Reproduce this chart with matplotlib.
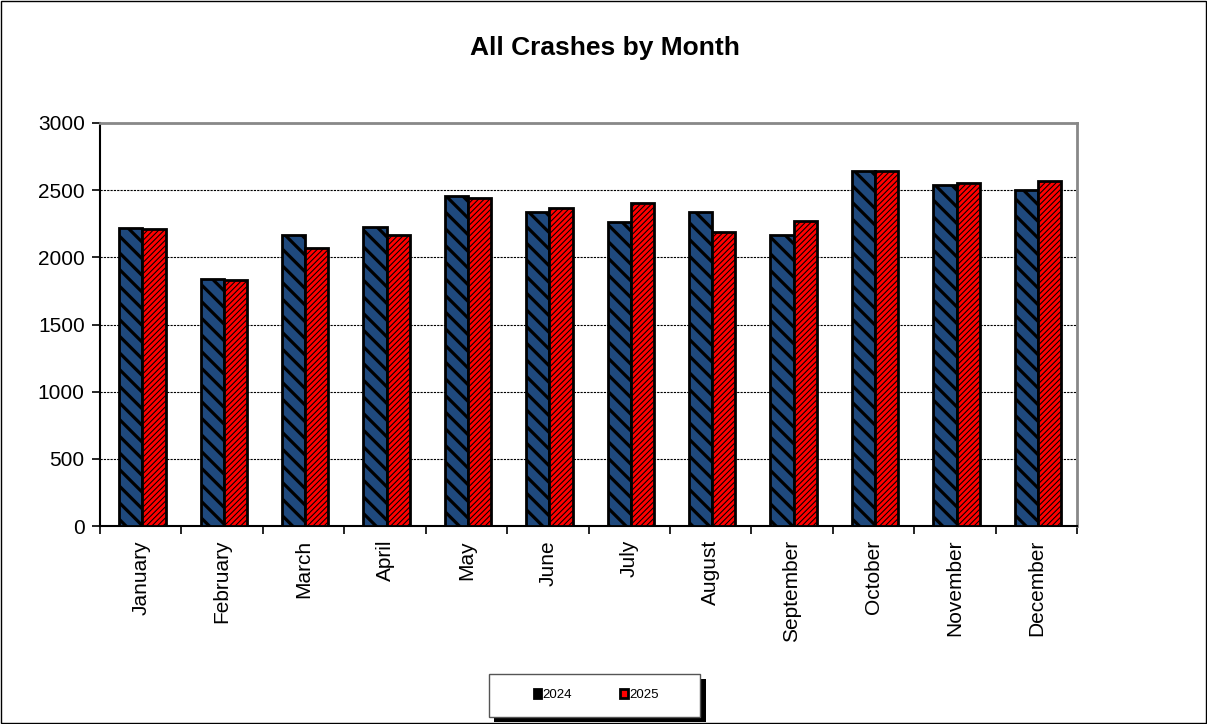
import matplotlib
matplotlib.use("Agg")
import matplotlib.pyplot as plt
from matplotlib.patches import Rectangle, Patch
import numpy as np

plt.rcParams['font.family'] = ['Liberation Sans', 'DejaVu Sans']

months = ["January", "February", "March", "April", "May", "June", "July",
          "August", "September", "October", "November", "December"]
series_2024 = [2215, 1841, 2165, 2225, 2455, 2336, 2260, 2336, 2165, 2646, 2535, 2498]
series_2025 = [2210, 1831, 2067, 2163, 2440, 2366, 2405, 2188, 2267, 2639, 2550, 2566]
y_ticks = [0, 500, 1000, 1500, 2000, 2500, 3000]
title = "All Crashes by Month"
legend_labels = ["2024", "2025"]

W, H = 1207, 724
fig = plt.figure(figsize=(W / 100, H / 100), dpi=100)
fig.patch.set_facecolor("white")
fig.patches.append(Rectangle((0.0005, 0.0008), 0.999, 0.9985, transform=fig.transFigure,
                             fill=False, edgecolor="black", linewidth=1.0))

ax = fig.add_axes([100 / W, 1 - 526 / H, (1077 - 100) / W, (526 - 123) / H])

x = np.arange(len(months))
bw = 0.285
shift = 0.02
blue = "#1F497D"
red = "#FF0000"

b1 = ax.bar(x - bw / 2 + shift, series_2024, width=bw, color=blue, edgecolor="black",
            linewidth=2.0, hatch="\\\\", zorder=3)
b2 = ax.bar(x + bw / 2 + shift, series_2025, width=bw, color=red, edgecolor="black",
            linewidth=2.0, hatch="//////", zorder=3)
for b in b1:
    try:
        b.set_hatch_linewidth(2.3)
    except AttributeError:
        pass
for b in b2:
    try:
        b.set_hatch_linewidth(0.75)
    except AttributeError:
        pass

ax.set_xlim(-0.5, len(months) - 0.5)
ax.set_ylim(0, 3000)
ax.set_yticks(y_ticks)
ax.set_yticklabels([str(v) for v in y_ticks], fontsize=15)
ax.set_xticks(x)
ax.set_xticklabels(months, rotation=90, fontsize=15, va="top", ha="center")
ax.set_xticks(np.arange(-0.5, len(months) + 0.5, 1.0), minor=True)
ax.tick_params(axis="x", which="major", length=0, pad=10)
ax.tick_params(axis="x", which="minor", length=6, width=1.2, color="black", direction="out")
ax.tick_params(axis="y", which="major", length=6, width=1.2, direction="out", pad=5)

ax.yaxis.grid(True, linestyle=(0, (2, 1)), color="black", linewidth=0.8, zorder=0)
ax.set_axisbelow(True)

for s in ["left", "bottom"]:
    ax.spines[s].set_color("black")
    ax.spines[s].set_linewidth(1.5)
for s in ["top", "right"]:
    ax.spines[s].set_color("#888888")
    ax.spines[s].set_linewidth(2.0)

fig.text(605 / W, 1 - 48 / H, title, fontsize=19, fontweight="bold",
         ha="center", va="center")

# legend box with shadow
fig.patches.append(Rectangle((494 / W, 1 - 722 / H), (706 - 494) / W, (722 - 679) / H,
                             transform=fig.transFigure, facecolor="black",
                             edgecolor="black", linewidth=0, zorder=1))
fig.patches.append(Rectangle((489 / W, 1 - 717 / H), (700 - 489) / W, (717 - 674) / H,
                             transform=fig.transFigure, facecolor="white",
                             edgecolor="#555555", linewidth=1.0, zorder=2))
handles = [Patch(facecolor="black", edgecolor="black", linewidth=2.0),
           Patch(facecolor=red, edgecolor="black", linewidth=2.0)]
leg = fig.legend(handles, legend_labels, loc="center", bbox_to_anchor=(596 / W, 1 - 695 / H),
                 ncol=2, frameon=False, fontsize=9.5, handlelength=0.6, handleheight=0.6,
                 handletextpad=0.1, columnspacing=3.6)
leg.set_zorder(5)

fig.savefig("out.png", dpi=100)
